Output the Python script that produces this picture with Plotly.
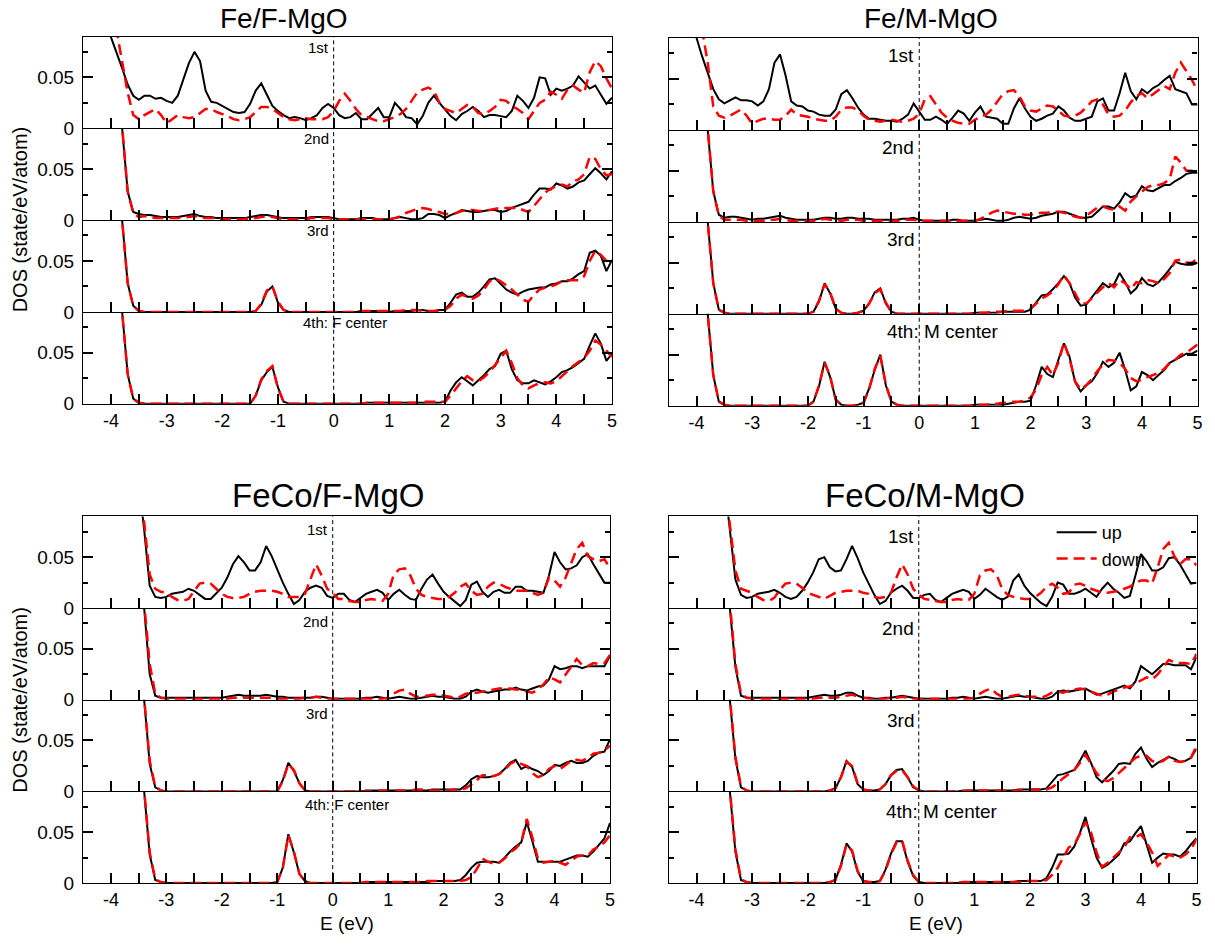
import plotly.graph_objects as go

W, H = 1215, 945

# ---------------- data ----------------
E = [-4.5, -4.4, -4.3, -4.2, -4.1, -4.0, -3.9, -3.8, -3.7, -3.6,
     -3.5, -3.4, -3.3, -3.2, -3.1, -3.0, -2.9, -2.8, -2.7, -2.6,
     -2.5, -2.4, -2.3, -2.2, -2.1, -2.0, -1.9, -1.8, -1.7, -1.6,
     -1.5, -1.4, -1.3, -1.2, -1.1, -1.0, -0.9, -0.8, -0.7, -0.6,
     -0.5, -0.4, -0.3, -0.2, -0.1, 0.0, 0.1, 0.2, 0.3, 0.4,
     0.5, 0.6, 0.7, 0.8, 0.9, 1.0, 1.1, 1.2, 1.3, 1.4,
     1.5, 1.6, 1.7, 1.8, 1.9, 2.0, 2.1, 2.2, 2.3, 2.4,
     2.5, 2.6, 2.7, 2.8, 2.9, 3.0, 3.1, 3.2, 3.3, 3.4,
     3.5, 3.6, 3.7, 3.8, 3.9, 4.0, 4.1, 4.2, 4.3, 4.4,
     4.5, 4.6, 4.7, 4.8, 4.9, 5.0]

# Fe/F-MgO
fe_f_1st_up = [0.165, 0.150, 0.135, 0.120, 0.105, 0.090, 0.074, 0.059, 0.043, 0.032,
               0.028, 0.032, 0.032, 0.029, 0.030, 0.027, 0.025, 0.032, 0.048, 0.064,
               0.075, 0.066, 0.037, 0.026, 0.025, 0.022, 0.019, 0.016, 0.015, 0.016,
               0.024, 0.037, 0.044, 0.033, 0.022, 0.017, 0.013, 0.010, 0.011, 0.010,
               0.008, 0.010, 0.013, 0.020, 0.024, 0.020, 0.013, 0.010, 0.011, 0.015,
               0.009, 0.009, 0.015, 0.020, 0.011, 0.011, 0.025, 0.019, 0.011, 0.010,
               0.004, 0.012, 0.025, 0.032, 0.025, 0.019, 0.012, 0.008, 0.014, 0.017,
               0.021, 0.017, 0.011, 0.013, 0.013, 0.012, 0.011, 0.017, 0.032, 0.027,
               0.020, 0.030, 0.050, 0.049, 0.033, 0.039, 0.037, 0.039, 0.042, 0.051,
               0.045, 0.039, 0.042, 0.033, 0.024, 0.030]
fe_f_1st_dn = [0.33, 0.29, 0.25, 0.21, 0.17, 0.125, 0.096, 0.065, 0.035, 0.013,
               0.009, 0.013, 0.016, 0.019, 0.013, 0.005, 0.009, 0.013, 0.011, 0.010,
               0.011, 0.015, 0.019, 0.019, 0.016, 0.014, 0.012, 0.009, 0.008, 0.009,
               0.011, 0.016, 0.021, 0.021, 0.019, 0.015, 0.011, 0.009, 0.008, 0.009,
               0.010, 0.009, 0.009, 0.009, 0.011, 0.017, 0.027, 0.034, 0.027, 0.019,
               0.013, 0.011, 0.009, 0.007, 0.007, 0.009, 0.011, 0.014, 0.019, 0.027,
               0.035, 0.038, 0.040, 0.037, 0.025, 0.019, 0.017, 0.015, 0.019, 0.023,
               0.021, 0.015, 0.014, 0.017, 0.021, 0.028, 0.027, 0.022, 0.019, 0.015,
               0.009, 0.017, 0.025, 0.028, 0.036, 0.033, 0.029, 0.038, 0.042, 0.038,
               0.035, 0.055, 0.066, 0.061, 0.049, 0.039]
fe_f_2nd_up = [0.40, 0.35, 0.30, 0.25, 0.20, 0.16, 0.125, 0.090, 0.028, 0.008,
               0.006, 0.005, 0.005, 0.004, 0.003, 0.003, 0.003, 0.003, 0.004, 0.005,
               0.006, 0.004, 0.003, 0.003, 0.002, 0.002, 0.002, 0.002, 0.002, 0.002,
               0.003, 0.004, 0.005, 0.005, 0.004, 0.003, 0.002, 0.002, 0.002, 0.002,
               0.002, 0.003, 0.003, 0.003, 0.003, 0.002, 0.001, 0.001, 0.001, 0.001,
               0.002, 0.002, 0.002, 0.001, 0.001, 0.001, 0.002, 0.003, 0.002, 0.001,
               0.001, 0.002, 0.006, 0.006, 0.005, 0.002, 0.005, 0.007, 0.010, 0.009,
               0.008, 0.008, 0.009, 0.010, 0.010, 0.008, 0.009, 0.012, 0.014, 0.016,
               0.018, 0.025, 0.031, 0.031, 0.030, 0.036, 0.034, 0.031, 0.033, 0.037,
               0.039, 0.045, 0.051, 0.046, 0.040, 0.048]
fe_f_2nd_dn = [0.40, 0.35, 0.30, 0.25, 0.20, 0.16, 0.125, 0.092, 0.028, 0.007,
               0.003, 0.004, 0.003, 0.002, 0.002, 0.002, 0.002, 0.002, 0.003, 0.003,
               0.004, 0.003, 0.002, 0.002, 0.002, 0.001, 0.001, 0.001, 0.001, 0.001,
               0.002, 0.002, 0.003, 0.004, 0.003, 0.002, 0.001, 0.001, 0.001, 0.001,
               0.001, 0.002, 0.002, 0.002, 0.002, 0.001, 0.001, 0.001, 0.001, 0.001,
               0.001, 0.001, 0.001, 0.001, 0.001, 0.001, 0.002, 0.004, 0.007, 0.009,
               0.011, 0.012, 0.011, 0.009, 0.008, 0.006, 0.006, 0.007, 0.009, 0.010,
               0.010, 0.009, 0.009, 0.010, 0.011, 0.012, 0.012, 0.012, 0.012, 0.010,
               0.008, 0.014, 0.020, 0.027, 0.031, 0.033, 0.035, 0.033, 0.038, 0.040,
               0.045, 0.062, 0.060, 0.050, 0.044, 0.045]
fe_f_3rd_up = [0.40, 0.35, 0.30, 0.25, 0.20, 0.16, 0.125, 0.090, 0.028, 0.006,
               0.001, 0, 0, 0, 0, 0, 0, 0, 0, 0,
               0, 0, 0, 0, 0, 0, 0, 0, 0, 0,
               0, 0.001, 0.007, 0.020, 0.025, 0.009, 0.002, 0, 0, 0,
               0, 0, 0, 0, 0, 0, 0, 0, 0, 0,
               0.001, 0.001, 0.001, 0.001, 0, 0, 0.001, 0.001, 0.001, 0.001,
               0.002, 0.002, 0.001, 0.001, 0.002, 0.002, 0.009, 0.017, 0.019, 0.015,
               0.015, 0.019, 0.025, 0.032, 0.033, 0.027, 0.022, 0.019, 0.017, 0.020,
               0.022, 0.023, 0.024, 0.024, 0.027, 0.028, 0.030, 0.030, 0.033, 0.037,
               0.040, 0.058, 0.060, 0.055, 0.040, 0.051]
fe_f_3rd_dn = [0.40, 0.35, 0.30, 0.25, 0.20, 0.16, 0.125, 0.090, 0.028, 0.006,
               0.001, 0, 0, 0, 0, 0, 0, 0, 0, 0,
               0, 0, 0, 0, 0, 0, 0, 0, 0, 0,
               0, 0.001, 0.008, 0.021, 0.025, 0.010, 0.002, 0, 0, 0,
               0, 0, 0, 0, 0, 0, 0, 0, 0, 0,
               0.001, 0.001, 0.001, 0.001, 0.001, 0.001, 0.001, 0.001, 0.002, 0.002,
               0.002, 0.001, 0.001, 0.001, 0.001, 0.002, 0.006, 0.013, 0.017, 0.015,
               0.013, 0.016, 0.022, 0.030, 0.033, 0.030, 0.026, 0.022, 0.017, 0.012,
               0.010, 0.017, 0.022, 0.024, 0.025, 0.027, 0.030, 0.031, 0.031, 0.031,
               0.035, 0.050, 0.060, 0.056, 0.050, 0.050]
fe_f_4th_up = [0.40, 0.35, 0.30, 0.25, 0.20, 0.16, 0.125, 0.090, 0.029, 0.005,
               0.001, 0, 0, 0, 0, 0, 0, 0, 0, 0,
               0, 0, 0, 0, 0, 0, 0, 0, 0, 0,
               0, 0.008, 0.023, 0.031, 0.036, 0.016, 0.002, 0, 0, 0,
               0, 0, 0, 0, 0, 0, 0, 0, 0, 0,
               0, 0.001, 0.001, 0.001, 0.001, 0.001, 0.001, 0.001, 0.001, 0.001,
               0.001, 0.001, 0.001, 0.001, 0.001, 0.002, 0.013, 0.021, 0.026, 0.022,
               0.018, 0.023, 0.028, 0.034, 0.037, 0.049, 0.052, 0.034, 0.023, 0.020,
               0.020, 0.023, 0.021, 0.019, 0.022, 0.026, 0.031, 0.033, 0.036, 0.040,
               0.044, 0.057, 0.069, 0.059, 0.042, 0.049]
fe_f_4th_dn = [0.40, 0.35, 0.30, 0.25, 0.20, 0.16, 0.125, 0.090, 0.029, 0.005,
               0.001, 0, 0, 0, 0, 0, 0, 0, 0, 0,
               0, 0, 0, 0, 0, 0, 0, 0, 0, 0,
               0, 0.008, 0.024, 0.032, 0.037, 0.015, 0.002, 0, 0, 0,
               0, 0, 0, 0, 0, 0, 0, 0, 0, 0,
               0, 0.001, 0.001, 0.001, 0.001, 0.001, 0.001, 0.001, 0.001, 0.001,
               0.001, 0.002, 0.002, 0.002, 0.002, 0.002, 0.008, 0.015, 0.022, 0.027,
               0.023, 0.022, 0.026, 0.031, 0.038, 0.046, 0.052, 0.040, 0.025, 0.018,
               0.015, 0.018, 0.020, 0.021, 0.020, 0.022, 0.027, 0.032, 0.037, 0.041,
               0.045, 0.052, 0.062, 0.058, 0.052, 0.046]

# Fe/M-MgO
fe_m_1st_up = [0.165, 0.150, 0.135, 0.120, 0.105, 0.090, 0.072, 0.056, 0.040, 0.030,
               0.026, 0.029, 0.032, 0.029, 0.029, 0.028, 0.024, 0.028, 0.040, 0.066,
               0.074, 0.053, 0.028, 0.024, 0.023, 0.019, 0.018, 0.015, 0.014, 0.014,
               0.020, 0.035, 0.039, 0.031, 0.022, 0.015, 0.011, 0.011, 0.010, 0.009,
               0.009, 0.008, 0.011, 0.015, 0.026, 0.018, 0.010, 0.010, 0.013, 0.010,
               0.006, 0.012, 0.019, 0.016, 0.009, 0.017, 0.023, 0.013, 0.012, 0.011,
               0.006, 0.006, 0.021, 0.031, 0.021, 0.013, 0.009, 0.011, 0.014, 0.016,
               0.023, 0.019, 0.012, 0.009, 0.009, 0.011, 0.013, 0.028, 0.031, 0.019,
               0.019, 0.036, 0.056, 0.038, 0.030, 0.040, 0.036, 0.041, 0.044, 0.049,
               0.053, 0.040, 0.038, 0.036, 0.025, 0.025]
fe_m_1st_dn = [0.33, 0.29, 0.25, 0.21, 0.17, 0.13, 0.098, 0.066, 0.023, 0.014,
               0.012, 0.014, 0.017, 0.020, 0.014, 0.006, 0.009, 0.011, 0.011, 0.010,
               0.010, 0.014, 0.020, 0.015, 0.014, 0.013, 0.011, 0.010, 0.009, 0.009,
               0.013, 0.020, 0.022, 0.022, 0.019, 0.014, 0.010, 0.009, 0.008, 0.009,
               0.010, 0.009, 0.008, 0.009, 0.011, 0.016, 0.030, 0.033, 0.025, 0.017,
               0.012, 0.009, 0.007, 0.006, 0.006, 0.010, 0.013, 0.015, 0.020, 0.028,
               0.035, 0.038, 0.039, 0.033, 0.023, 0.019, 0.018, 0.021, 0.024, 0.023,
               0.019, 0.014, 0.013, 0.014, 0.017, 0.022, 0.028, 0.030, 0.025, 0.015,
               0.013, 0.014, 0.019, 0.027, 0.033, 0.036, 0.031, 0.035, 0.039, 0.043,
               0.040, 0.056, 0.066, 0.057, 0.049, 0.038]
fe_m_2nd_up = [0.40, 0.35, 0.30, 0.25, 0.20, 0.16, 0.125, 0.090, 0.030, 0.007,
               0.004, 0.005, 0.005, 0.004, 0.003, 0.002, 0.003, 0.003, 0.004, 0.005,
               0.006, 0.004, 0.003, 0.002, 0.002, 0.002, 0.002, 0.003, 0.004, 0.004,
               0.003, 0.003, 0.004, 0.004, 0.003, 0.003, 0.003, 0.002, 0.002, 0.002,
               0.002, 0.002, 0.003, 0.003, 0.004, 0.002, 0.001, 0.001, 0.001, 0.001,
               0.001, 0.002, 0.002, 0.001, 0.001, 0.001, 0.002, 0.003, 0.002, 0.001,
               0.001, 0.002, 0.004, 0.005, 0.004, 0.003, 0.004, 0.006, 0.007, 0.008,
               0.010, 0.010, 0.008, 0.006, 0.004, 0.004, 0.005, 0.010, 0.015, 0.015,
               0.013, 0.019, 0.028, 0.024, 0.026, 0.035, 0.031, 0.030, 0.033, 0.036,
               0.036, 0.040, 0.043, 0.047, 0.048, 0.048]
fe_m_2nd_dn = [0.40, 0.35, 0.30, 0.25, 0.20, 0.16, 0.125, 0.092, 0.030, 0.006,
               0.002, 0.002, 0.002, 0.002, 0.001, 0.001, 0.001, 0.001, 0.002, 0.002,
               0.003, 0.002, 0.001, 0.001, 0.001, 0.001, 0.001, 0.002, 0.003, 0.002,
               0.002, 0.001, 0.002, 0.002, 0.002, 0.001, 0.001, 0.001, 0.001, 0.001,
               0.001, 0.001, 0.002, 0.002, 0.002, 0.001, 0.001, 0.001, 0.001, 0.001,
               0.001, 0.001, 0.001, 0.001, 0.001, 0.001, 0.003, 0.006, 0.009, 0.011,
               0.010, 0.009, 0.008, 0.008, 0.007, 0.007, 0.008, 0.009, 0.009, 0.010,
               0.010, 0.009, 0.007, 0.005, 0.004, 0.006, 0.010, 0.014, 0.015, 0.013,
               0.012, 0.015, 0.011, 0.020, 0.025, 0.030, 0.034, 0.036, 0.036, 0.038,
               0.042, 0.064, 0.058, 0.050, 0.050, 0.052]
fe_m_3rd_up = [0.40, 0.35, 0.30, 0.25, 0.20, 0.16, 0.125, 0.090, 0.030, 0.004,
               0.001, 0, 0, 0, 0, 0, 0, 0, 0, 0,
               0, 0, 0, 0, 0, 0, 0.002, 0.012, 0.030, 0.020,
               0.005, 0.001, 0, 0, 0.001, 0.003, 0.010, 0.021, 0.025, 0.010,
               0.002, 0, 0, 0, 0, 0, 0, 0, 0, 0,
               0, 0, 0, 0, 0, 0.001, 0.001, 0.001, 0.001, 0.001,
               0.002, 0.002, 0.002, 0.002, 0.002, 0.004, 0.011, 0.018, 0.019, 0.024,
               0.030, 0.037, 0.030, 0.016, 0.008, 0.009, 0.016, 0.023, 0.030, 0.026,
               0.029, 0.040, 0.031, 0.020, 0.025, 0.035, 0.029, 0.027, 0.031, 0.037,
               0.044, 0.051, 0.049, 0.048, 0.048, 0.050]
fe_m_3rd_dn = [0.40, 0.35, 0.30, 0.25, 0.20, 0.16, 0.125, 0.090, 0.030, 0.004,
               0.001, 0, 0, 0, 0, 0, 0, 0, 0, 0,
               0, 0, 0, 0, 0, 0, 0.002, 0.013, 0.029, 0.021,
               0.005, 0.001, 0, 0, 0.001, 0.003, 0.010, 0.020, 0.024, 0.011,
               0.002, 0, 0, 0, 0, 0, 0, 0, 0, 0,
               0, 0, 0, 0, 0, 0.001, 0.001, 0.001, 0.002, 0.002,
               0.002, 0.003, 0.003, 0.003, 0.003, 0.005, 0.010, 0.015, 0.018, 0.022,
               0.029, 0.038, 0.030, 0.020, 0.010, 0.010, 0.015, 0.021, 0.026, 0.030,
               0.026, 0.033, 0.030, 0.024, 0.031, 0.030, 0.033, 0.032, 0.030, 0.034,
               0.040, 0.052, 0.053, 0.050, 0.050, 0.054]
fe_m_4th_up = [0.40, 0.35, 0.30, 0.25, 0.20, 0.16, 0.125, 0.090, 0.030, 0.004,
               0.001, 0, 0, 0, 0, 0, 0, 0, 0, 0,
               0, 0, 0, 0, 0, 0, 0.004, 0.019, 0.043, 0.028,
               0.006, 0.001, 0, 0, 0.001, 0.003, 0.017, 0.035, 0.050, 0.020,
               0.004, 0.001, 0, 0, 0, 0, 0, 0, 0, 0,
               0, 0, 0, 0, 0, 0.001, 0.001, 0.001, 0.001, 0.001,
               0.001, 0.002, 0.003, 0.004, 0.004, 0.005, 0.020, 0.038, 0.031, 0.028,
               0.045, 0.061, 0.048, 0.023, 0.014, 0.020, 0.024, 0.032, 0.043, 0.038,
               0.042, 0.052, 0.035, 0.015, 0.019, 0.033, 0.030, 0.025, 0.030, 0.035,
               0.042, 0.045, 0.048, 0.051, 0.051, 0.054]
fe_m_4th_dn = [0.40, 0.35, 0.30, 0.25, 0.20, 0.16, 0.125, 0.090, 0.030, 0.004,
               0.001, 0, 0, 0, 0, 0, 0, 0, 0, 0,
               0, 0, 0, 0, 0, 0, 0.004, 0.020, 0.042, 0.029,
               0.006, 0.001, 0, 0, 0.001, 0.003, 0.016, 0.036, 0.049, 0.021,
               0.004, 0.001, 0, 0, 0, 0, 0, 0, 0, 0,
               0, 0, 0, 0, 0, 0.001, 0.001, 0.001, 0.002, 0.002,
               0.003, 0.003, 0.004, 0.004, 0.005, 0.008, 0.016, 0.030, 0.038, 0.030,
               0.042, 0.062, 0.046, 0.024, 0.016, 0.020, 0.026, 0.034, 0.040, 0.045,
               0.044, 0.042, 0.036, 0.027, 0.024, 0.025, 0.028, 0.030, 0.032, 0.036,
               0.042, 0.045, 0.050, 0.052, 0.056, 0.060]

# FeCo/F-MgO
feco_f_1st_up = [0.60, 0.55, 0.50, 0.45, 0.40, 0.35, 0.30, 0.25, 0.20, 0.16,
                 0.125, 0.077, 0.022, 0.011, 0.010, 0.011, 0.014, 0.015, 0.016, 0.019,
                 0.017, 0.013, 0.009, 0.009, 0.014, 0.020, 0.030, 0.043, 0.051, 0.045,
                 0.037, 0.037, 0.045, 0.061, 0.051, 0.037, 0.025, 0.014, 0.004, 0.008,
                 0.016, 0.020, 0.022, 0.020, 0.012, 0.010, 0.014, 0.014, 0.008, 0.006,
                 0.010, 0.014, 0.016, 0.018, 0.015, 0.008, 0.014, 0.018, 0.013, 0.009,
                 0.008, 0.019, 0.028, 0.033, 0.024, 0.016, 0.011, 0.006, 0.002, 0.008,
                 0.023, 0.026, 0.016, 0.011, 0.016, 0.018, 0.015, 0.015, 0.021, 0.021,
                 0.017, 0.017, 0.016, 0.015, 0.032, 0.055, 0.045, 0.038, 0.039, 0.042,
                 0.050, 0.053, 0.043, 0.034, 0.025, 0.025]
feco_f_1st_dn = [0.60, 0.55, 0.50, 0.45, 0.40, 0.35, 0.30, 0.25, 0.20, 0.16,
                 0.13, 0.084, 0.033, 0.019, 0.016, 0.015, 0.011, 0.008, 0.007, 0.009,
                 0.017, 0.024, 0.025, 0.024, 0.019, 0.014, 0.011, 0.010, 0.010, 0.011,
                 0.014, 0.016, 0.017, 0.017, 0.017, 0.016, 0.014, 0.011, 0.011, 0.011,
                 0.014, 0.028, 0.043, 0.032, 0.019, 0.015, 0.009, 0.009, 0.007, 0.006,
                 0.006, 0.008, 0.009, 0.008, 0.007, 0.014, 0.033, 0.038, 0.039, 0.032,
                 0.019, 0.013, 0.011, 0.010, 0.009, 0.009, 0.011, 0.015, 0.021, 0.024,
                 0.017, 0.013, 0.014, 0.021, 0.025, 0.024, 0.021, 0.019, 0.017, 0.017,
                 0.017, 0.015, 0.013, 0.015, 0.030, 0.027, 0.021, 0.030, 0.045, 0.058,
                 0.064, 0.051, 0.048, 0.046, 0.048, 0.039]
feco_f_2nd_up = [0.9, 0.8, 0.7, 0.6, 0.5, 0.42, 0.35, 0.28, 0.22, 0.17,
                 0.13, 0.090, 0.025, 0.004, 0.002, 0.002, 0.002, 0.002, 0.002, 0.002,
                 0.002, 0.002, 0.002, 0.002, 0.002, 0.002, 0.003, 0.004, 0.005, 0.004,
                 0.004, 0.004, 0.004, 0.005, 0.004, 0.003, 0.003, 0.002, 0.002, 0.002,
                 0.002, 0.002, 0.003, 0.003, 0.002, 0.001, 0.001, 0.001, 0.001, 0.001,
                 0.001, 0.002, 0.002, 0.003, 0.002, 0.001, 0.002, 0.003, 0.002, 0.001,
                 0.001, 0.002, 0.003, 0.004, 0.003, 0.003, 0.002, 0.001, 0.001, 0.003,
                 0.008, 0.010, 0.008, 0.007, 0.008, 0.009, 0.010, 0.010, 0.012, 0.010,
                 0.009, 0.011, 0.013, 0.014, 0.020, 0.033, 0.030, 0.031, 0.033, 0.033,
                 0.031, 0.033, 0.033, 0.033, 0.033, 0.043]
feco_f_2nd_dn = [0.9, 0.8, 0.7, 0.6, 0.5, 0.42, 0.35, 0.28, 0.22, 0.17,
                 0.13, 0.095, 0.035, 0.006, 0.002, 0.001, 0.001, 0.001, 0.001, 0.001,
                 0.001, 0.001, 0.001, 0.001, 0.001, 0.001, 0.001, 0.002, 0.002, 0.002,
                 0.002, 0.002, 0.002, 0.002, 0.002, 0.001, 0.001, 0.001, 0.001, 0.001,
                 0.002, 0.002, 0.003, 0.002, 0.001, 0.001, 0.001, 0.001, 0.001, 0.001,
                 0.001, 0.001, 0.001, 0.001, 0.001, 0.002, 0.006, 0.009, 0.010, 0.006,
                 0.003, 0.003, 0.004, 0.005, 0.005, 0.004, 0.003, 0.002, 0.003, 0.006,
                 0.007, 0.007, 0.008, 0.009, 0.010, 0.011, 0.011, 0.011, 0.010, 0.010,
                 0.008, 0.007, 0.010, 0.015, 0.022, 0.020, 0.017, 0.025, 0.033, 0.040,
                 0.034, 0.033, 0.036, 0.035, 0.036, 0.044]
feco_f_3rd_up = [0.9, 0.8, 0.7, 0.6, 0.5, 0.42, 0.35, 0.28, 0.22, 0.17,
                 0.13, 0.090, 0.027, 0.004, 0.001, 0, 0, 0, 0, 0,
                 0, 0, 0, 0, 0, 0, 0, 0, 0, 0,
                 0, 0, 0, 0, 0, 0, 0.011, 0.028, 0.020, 0.008,
                 0.001, 0, 0, 0, 0, 0, 0, 0, 0, 0,
                 0, 0.001, 0.001, 0.001, 0.001, 0.001, 0.001, 0.001, 0.001, 0.001,
                 0.001, 0.001, 0.001, 0.002, 0.002, 0.002, 0.002, 0.002, 0.002, 0.006,
                 0.012, 0.015, 0.014, 0.014, 0.015, 0.017, 0.022, 0.028, 0.031, 0.022,
                 0.025, 0.022, 0.020, 0.016, 0.020, 0.026, 0.025, 0.028, 0.030, 0.028,
                 0.028, 0.030, 0.035, 0.038, 0.039, 0.051]
feco_f_3rd_dn = [0.9, 0.8, 0.7, 0.6, 0.5, 0.42, 0.35, 0.28, 0.22, 0.17,
                 0.13, 0.092, 0.030, 0.005, 0.001, 0, 0, 0, 0, 0,
                 0, 0, 0, 0, 0, 0, 0, 0, 0, 0,
                 0, 0, 0, 0, 0, 0, 0.010, 0.027, 0.021, 0.008,
                 0.001, 0, 0, 0, 0, 0, 0, 0, 0, 0,
                 0, 0, 0, 0.001, 0.001, 0.001, 0.001, 0.001, 0.001, 0.001,
                 0.002, 0.002, 0.001, 0.001, 0.001, 0.001, 0.001, 0.002, 0.002, 0.003,
                 0.007, 0.011, 0.016, 0.016, 0.015, 0.017, 0.021, 0.027, 0.030, 0.027,
                 0.025, 0.018, 0.014, 0.016, 0.022, 0.025, 0.022, 0.026, 0.030, 0.031,
                 0.030, 0.033, 0.037, 0.038, 0.040, 0.045]
feco_f_4th_up = [0.9, 0.8, 0.7, 0.6, 0.5, 0.42, 0.35, 0.28, 0.22, 0.17,
                 0.13, 0.090, 0.028, 0.003, 0.001, 0, 0, 0, 0, 0,
                 0, 0, 0, 0, 0, 0, 0, 0, 0, 0,
                 0, 0, 0, 0, 0, 0.001, 0.015, 0.048, 0.030, 0.009,
                 0.002, 0, 0, 0, 0, 0, 0, 0, 0, 0,
                 0, 0.001, 0.001, 0.001, 0.001, 0.001, 0.001, 0.001, 0.001, 0.001,
                 0.001, 0.001, 0.001, 0.002, 0.002, 0.002, 0.002, 0.002, 0.003, 0.008,
                 0.015, 0.020, 0.021, 0.021, 0.021, 0.020, 0.025, 0.031, 0.036, 0.040,
                 0.060, 0.041, 0.021, 0.021, 0.021, 0.021, 0.021, 0.023, 0.025, 0.027,
                 0.027, 0.026, 0.031, 0.038, 0.044, 0.059]
feco_f_4th_dn = [0.9, 0.8, 0.7, 0.6, 0.5, 0.42, 0.35, 0.28, 0.22, 0.17,
                 0.13, 0.092, 0.030, 0.004, 0.001, 0, 0, 0, 0, 0,
                 0, 0, 0, 0, 0, 0, 0, 0, 0, 0,
                 0, 0, 0, 0, 0, 0.001, 0.015, 0.047, 0.031, 0.009,
                 0.002, 0, 0, 0, 0, 0, 0, 0, 0, 0,
                 0, 0.001, 0.001, 0.001, 0.001, 0.001, 0.001, 0.001, 0.001, 0.001,
                 0.001, 0.001, 0.002, 0.002, 0.002, 0.002, 0.002, 0.002, 0.002, 0.003,
                 0.006, 0.014, 0.024, 0.021, 0.019, 0.020, 0.024, 0.030, 0.034, 0.040,
                 0.063, 0.045, 0.024, 0.020, 0.021, 0.022, 0.020, 0.018, 0.022, 0.026,
                 0.027, 0.027, 0.033, 0.036, 0.040, 0.047]

# FeCo/M-MgO
feco_m_1st_up = [0.60, 0.55, 0.50, 0.45, 0.40, 0.35, 0.30, 0.25, 0.20, 0.16,
                 0.125, 0.077, 0.028, 0.013, 0.010, 0.011, 0.014, 0.015, 0.016, 0.018,
                 0.015, 0.011, 0.009, 0.011, 0.017, 0.025, 0.035, 0.048, 0.050, 0.040,
                 0.036, 0.037, 0.048, 0.061, 0.049, 0.035, 0.024, 0.013, 0.004, 0.007,
                 0.015, 0.019, 0.022, 0.017, 0.010, 0.010, 0.013, 0.014, 0.008, 0.006,
                 0.010, 0.014, 0.016, 0.018, 0.016, 0.009, 0.013, 0.019, 0.015, 0.011,
                 0.008, 0.011, 0.027, 0.033, 0.022, 0.015, 0.010, 0.005, 0.002, 0.011,
                 0.025, 0.023, 0.014, 0.014, 0.016, 0.019, 0.015, 0.011, 0.019, 0.025,
                 0.019, 0.015, 0.010, 0.012, 0.032, 0.053, 0.046, 0.037, 0.037, 0.040,
                 0.049, 0.050, 0.043, 0.033, 0.024, 0.025]
feco_m_1st_dn = [0.60, 0.55, 0.50, 0.45, 0.40, 0.35, 0.30, 0.25, 0.20, 0.16,
                 0.13, 0.082, 0.037, 0.019, 0.017, 0.015, 0.011, 0.008, 0.007, 0.010,
                 0.018, 0.024, 0.025, 0.024, 0.020, 0.015, 0.013, 0.011, 0.009, 0.012,
                 0.015, 0.016, 0.017, 0.017, 0.017, 0.015, 0.014, 0.011, 0.010, 0.011,
                 0.015, 0.030, 0.043, 0.033, 0.019, 0.013, 0.009, 0.008, 0.007, 0.006,
                 0.006, 0.008, 0.009, 0.008, 0.008, 0.014, 0.032, 0.037, 0.038, 0.033,
                 0.019, 0.013, 0.011, 0.010, 0.009, 0.009, 0.011, 0.015, 0.021, 0.024,
                 0.020, 0.014, 0.015, 0.023, 0.024, 0.022, 0.019, 0.017, 0.015, 0.015,
                 0.016, 0.017, 0.019, 0.021, 0.025, 0.027, 0.027, 0.024, 0.040, 0.058,
                 0.064, 0.051, 0.043, 0.048, 0.048, 0.042]
feco_m_2nd_up = [0.9, 0.8, 0.7, 0.6, 0.5, 0.42, 0.35, 0.28, 0.22, 0.17,
                 0.13, 0.090, 0.032, 0.004, 0.002, 0.002, 0.002, 0.002, 0.002, 0.002,
                 0.002, 0.002, 0.002, 0.002, 0.002, 0.002, 0.003, 0.004, 0.005, 0.004,
                 0.004, 0.005, 0.007, 0.007, 0.004, 0.002, 0.002, 0.001, 0.001, 0.002,
                 0.002, 0.003, 0.004, 0.003, 0.002, 0.001, 0.001, 0.001, 0.001, 0.001,
                 0.001, 0.002, 0.002, 0.003, 0.002, 0.001, 0.002, 0.003, 0.002, 0.001,
                 0.001, 0.002, 0.003, 0.004, 0.003, 0.003, 0.002, 0.001, 0.001, 0.003,
                 0.008, 0.009, 0.008, 0.009, 0.010, 0.011, 0.008, 0.005, 0.006, 0.008,
                 0.010, 0.012, 0.014, 0.011, 0.018, 0.033, 0.029, 0.025, 0.030, 0.035,
                 0.035, 0.034, 0.034, 0.034, 0.030, 0.042]
feco_m_2nd_dn = [0.9, 0.8, 0.7, 0.6, 0.5, 0.42, 0.35, 0.28, 0.22, 0.17,
                 0.13, 0.095, 0.035, 0.006, 0.002, 0.001, 0.001, 0.001, 0.001, 0.001,
                 0.001, 0.001, 0.001, 0.001, 0.001, 0.001, 0.001, 0.002, 0.002, 0.002,
                 0.002, 0.003, 0.004, 0.005, 0.003, 0.002, 0.001, 0.001, 0.001, 0.001,
                 0.002, 0.002, 0.003, 0.002, 0.001, 0.001, 0.001, 0.001, 0.001, 0.001,
                 0.001, 0.001, 0.001, 0.001, 0.001, 0.002, 0.006, 0.009, 0.011, 0.006,
                 0.003, 0.003, 0.004, 0.005, 0.004, 0.003, 0.003, 0.002, 0.004, 0.007,
                 0.008, 0.007, 0.009, 0.010, 0.011, 0.010, 0.008, 0.006, 0.004, 0.005,
                 0.008, 0.010, 0.012, 0.013, 0.016, 0.019, 0.022, 0.020, 0.025, 0.032,
                 0.039, 0.037, 0.036, 0.036, 0.035, 0.045]
feco_m_3rd_up = [0.9, 0.8, 0.7, 0.6, 0.5, 0.42, 0.35, 0.28, 0.22, 0.17,
                 0.13, 0.090, 0.032, 0.004, 0.001, 0, 0, 0, 0, 0,
                 0, 0, 0, 0, 0, 0, 0, 0, 0, 0.001,
                 0.003, 0.014, 0.030, 0.024, 0.007, 0.002, 0.001, 0.001, 0.002, 0.007,
                 0.016, 0.021, 0.022, 0.014, 0.004, 0.001, 0, 0, 0, 0,
                 0, 0, 0, 0.001, 0.001, 0.001, 0.001, 0.001, 0.001, 0.001,
                 0.001, 0.001, 0.001, 0.002, 0.002, 0.002, 0.002, 0.002, 0.003, 0.009,
                 0.016, 0.017, 0.019, 0.021, 0.030, 0.040, 0.028, 0.014, 0.009, 0.014,
                 0.020, 0.027, 0.028, 0.027, 0.037, 0.043, 0.032, 0.024, 0.028, 0.031,
                 0.034, 0.032, 0.029, 0.030, 0.033, 0.042]
feco_m_3rd_dn = [0.9, 0.8, 0.7, 0.6, 0.5, 0.42, 0.35, 0.28, 0.22, 0.17,
                 0.13, 0.092, 0.034, 0.005, 0.001, 0, 0, 0, 0, 0,
                 0, 0, 0, 0, 0, 0, 0, 0, 0, 0.001,
                 0.003, 0.014, 0.029, 0.025, 0.008, 0.002, 0.001, 0.001, 0.002, 0.007,
                 0.016, 0.020, 0.021, 0.014, 0.005, 0.001, 0, 0, 0, 0,
                 0, 0, 0, 0, 0.001, 0.001, 0.001, 0.001, 0.001, 0.001,
                 0.001, 0.001, 0.001, 0.001, 0.002, 0.002, 0.002, 0.002, 0.002, 0.004,
                 0.008, 0.013, 0.017, 0.021, 0.028, 0.036, 0.027, 0.018, 0.012, 0.010,
                 0.013, 0.018, 0.023, 0.028, 0.033, 0.035, 0.035, 0.030, 0.028, 0.030,
                 0.034, 0.030, 0.029, 0.030, 0.033, 0.045]
feco_m_4th_up = [0.9, 0.8, 0.7, 0.6, 0.5, 0.42, 0.35, 0.28, 0.22, 0.17,
                 0.13, 0.090, 0.031, 0.003, 0.001, 0, 0, 0, 0, 0,
                 0, 0, 0, 0, 0, 0, 0, 0, 0, 0.001,
                 0.003, 0.018, 0.039, 0.031, 0.011, 0.002, 0.001, 0.001, 0.002, 0.013,
                 0.029, 0.041, 0.041, 0.021, 0.007, 0.001, 0, 0, 0, 0,
                 0, 0, 0, 0.001, 0.001, 0.001, 0.001, 0.001, 0.001, 0.001,
                 0.001, 0.001, 0.001, 0.002, 0.002, 0.002, 0.002, 0.002, 0.005, 0.015,
                 0.028, 0.028, 0.029, 0.036, 0.049, 0.065, 0.044, 0.025, 0.015, 0.018,
                 0.023, 0.028, 0.039, 0.041, 0.049, 0.056, 0.038, 0.020, 0.025, 0.029,
                 0.028, 0.028, 0.026, 0.031, 0.038, 0.044]
feco_m_4th_dn = [0.9, 0.8, 0.7, 0.6, 0.5, 0.42, 0.35, 0.28, 0.22, 0.17,
                 0.13, 0.092, 0.033, 0.004, 0.001, 0, 0, 0, 0, 0,
                 0, 0, 0, 0, 0, 0, 0, 0, 0, 0.001,
                 0.003, 0.017, 0.038, 0.032, 0.012, 0.002, 0.001, 0.001, 0.002, 0.012,
                 0.028, 0.040, 0.042, 0.022, 0.008, 0.001, 0, 0, 0, 0,
                 0, 0, 0, 0.001, 0.001, 0.001, 0.001, 0.001, 0.001, 0.001,
                 0.001, 0.001, 0.001, 0.001, 0.002, 0.002, 0.002, 0.002, 0.003, 0.008,
                 0.015, 0.025, 0.035, 0.038, 0.048, 0.060, 0.050, 0.030, 0.016, 0.020,
                 0.025, 0.030, 0.035, 0.045, 0.045, 0.048, 0.040, 0.030, 0.017, 0.022,
                 0.028, 0.026, 0.025, 0.028, 0.033, 0.043]

titles = ["Fe/F-MgO", "Fe/M-MgO", "FeCo/F-MgO", "FeCo/M-MgO"]
layer_labels_F = ["1st", "2nd", "3rd", "4th: F center"]
layer_labels_M = ["1st", "2nd", "3rd", "4th: M center"]
x_tick_vals = [-4, -3, -2, -1, 0, 1, 2, 3, 4, 5]
x_tick_text = ["-4", "-3", "-2", "-1", "0", "1", "2", "3", "4", "5"]
x_minor_vals = [-4.5, -3.5, -2.5, -1.5, -0.5, 0.5, 1.5, 2.5, 3.5, 4.5]
y_tick_vals = [0, 0.05]
y_tick_text = ["0", "0.05"]
y_minor_vals = [0.025, 0.075]
y_title = "DOS (state/eV/atom)"
x_title = "E (eV)"
series_names = ["up", "down"]

all_series = {
    "fe_f_1st_up": fe_f_1st_up, "fe_f_1st_dn": fe_f_1st_dn, "fe_f_2nd_up": fe_f_2nd_up, "fe_f_2nd_dn": fe_f_2nd_dn,
    "fe_f_3rd_up": fe_f_3rd_up, "fe_f_3rd_dn": fe_f_3rd_dn, "fe_f_4th_up": fe_f_4th_up, "fe_f_4th_dn": fe_f_4th_dn,
    "fe_m_1st_up": fe_m_1st_up, "fe_m_1st_dn": fe_m_1st_dn, "fe_m_2nd_up": fe_m_2nd_up, "fe_m_2nd_dn": fe_m_2nd_dn,
    "fe_m_3rd_up": fe_m_3rd_up, "fe_m_3rd_dn": fe_m_3rd_dn, "fe_m_4th_up": fe_m_4th_up, "fe_m_4th_dn": fe_m_4th_dn,
    "feco_f_1st_up": feco_f_1st_up, "feco_f_1st_dn": feco_f_1st_dn, "feco_f_2nd_up": feco_f_2nd_up, "feco_f_2nd_dn": feco_f_2nd_dn,
    "feco_f_3rd_up": feco_f_3rd_up, "feco_f_3rd_dn": feco_f_3rd_dn, "feco_f_4th_up": feco_f_4th_up, "feco_f_4th_dn": feco_f_4th_dn,
    "feco_m_1st_up": feco_m_1st_up, "feco_m_1st_dn": feco_m_1st_dn, "feco_m_2nd_up": feco_m_2nd_up, "feco_m_2nd_dn": feco_m_2nd_dn,
    "feco_m_3rd_up": feco_m_3rd_up, "feco_m_3rd_dn": feco_m_3rd_dn, "feco_m_4th_up": feco_m_4th_up, "feco_m_4th_dn": feco_m_4th_dn,
}
bad = [f"{k}:{len(v)}" for k, v in all_series.items() if len(v) != len(E)]
if bad:
    raise ValueError("length mismatch: " + ", ".join(bad))

panel_data = [
    [(fe_f_1st_up, fe_f_1st_dn), (fe_f_2nd_up, fe_f_2nd_dn), (fe_f_3rd_up, fe_f_3rd_dn), (fe_f_4th_up, fe_f_4th_dn)],
    [(fe_m_1st_up, fe_m_1st_dn), (fe_m_2nd_up, fe_m_2nd_dn), (fe_m_3rd_up, fe_m_3rd_dn), (fe_m_4th_up, fe_m_4th_dn)],
    [(feco_f_1st_up, feco_f_1st_dn), (feco_f_2nd_up, feco_f_2nd_dn), (feco_f_3rd_up, feco_f_3rd_dn), (feco_f_4th_up, feco_f_4th_dn)],
    [(feco_m_1st_up, feco_m_1st_dn), (feco_m_2nd_up, feco_m_2nd_dn), (feco_m_3rd_up, feco_m_3rd_dn), (feco_m_4th_up, feco_m_4th_dn)],
]
panel_labels = [layer_labels_F, layer_labels_M, layer_labels_F, layer_labels_M]

# ---------------- geometry / style ----------------
FONT = "Liberation Sans, Arial, Helvetica, sans-serif"
# (x_left, x_right, y_top, y_bottom) in pixels
boxes = [(83.5, 614.5, 37.0, 408.5),
         (671.5, 1202.5, 38.5, 410.5),
         (83.5, 612.5, 522.5, 893.5),
         (671.5, 1201.5, 522.5, 893.5)]
title_pos = [(285, 19, 28), (935, 19, 28), (330, 501, 33), (929, 501, 33)]
label_size = [15, 19, 15, 19]
label_drop = [1, 6, 4, 9]             # px below subpanel top
label_start4 = [-0.56, -0.60, -0.52, -0.60]

fig = go.Figure()
layout_axes = {}
annotations = []
shapes = []
AX = 1.4

for p in range(4):
    xl, xr, yt, yb = boxes[p]
    sub_h = (yb - yt) / 4.0
    for s in range(4):
        n = p * 4 + s + 1
        sfx = "" if n == 1 else str(n)
        top = yt + s * sub_h
        bot = top + sub_h
        up, dn = panel_data[p][s]
        show_leg = (p == 3 and s == 0)
        fig.add_trace(go.Scatter(x=E, y=up, mode="lines", name=series_names[0],
                                 line=dict(color="black", width=2),
                                 xaxis="x" + sfx, yaxis="y" + sfx,
                                 showlegend=show_leg, legendrank=1))
        fig.add_trace(go.Scatter(x=E, y=dn, mode="lines", name=series_names[1],
                                 line=dict(color="#ff0000", width=2.5, dash="11px,6px"),
                                 xaxis="x" + sfx, yaxis="y" + sfx,
                                 showlegend=show_leg, legendrank=2))
        bottom_row = (s == 3)
        layout_axes["xaxis" + sfx] = dict(
            domain=[xl / W, xr / W], range=[-4.5, 5], anchor="y" + sfx,
            tickmode="array", tickvals=x_tick_vals, ticktext=x_tick_text,
            showticklabels=bottom_row, ticks="inside", ticklen=10, tickwidth=1.5,
            tickcolor="black",
            minor=dict(tickmode="array", tickvals=x_minor_vals, ticks="inside",
                       ticklen=10, tickwidth=1.5, tickcolor="black", showgrid=False),
            showline=True, linecolor="black", linewidth=AX, mirror=(s == 0),
            showgrid=False, zeroline=False, layer="above traces",
            tickfont=dict(family=FONT, size=18, color="black"))
        layout_axes["yaxis" + sfx] = dict(
            domain=[1 - bot / H, 1 - top / H], range=[0, 0.09], anchor="x" + sfx,
            tickmode="array", tickvals=y_tick_vals, ticktext=y_tick_text,
            showticklabels=(p in (0, 2)), ticks="inside", ticklen=10, tickwidth=1.5,
            tickcolor="black", ticklabelstandoff=4,
            minor=dict(tickmode="array", tickvals=y_minor_vals, ticks="inside",
                       ticklen=5, tickwidth=1.5, tickcolor="black", showgrid=False),
            showline=True, linecolor="black", linewidth=AX, mirror="ticks",
            showgrid=False, zeroline=False, layer="above traces",
            tickfont=dict(family=FONT, size=19, color="black"))
        # dashed Fermi-level line
        shapes.append(dict(type="line", xref="x" + sfx, yref="y" + sfx + " domain",
                           x0=0, x1=0, y0=0, y1=1, layer="above",
                           line=dict(color="black", width=1, dash="4px,3px")))
        # layer label
        ypos = 1 - label_drop[p] / sub_h
        txt = panel_labels[p][s]
        if s < 3:
            annotations.append(dict(text=txt, xref="x" + sfx, yref="y" + sfx + " domain",
                                    x=-0.07, y=ypos, xanchor="right", yanchor="top",
                                    showarrow=False, borderpad=0,
                                    font=dict(family=FONT, size=label_size[p], color="black")))
        else:
            annotations.append(dict(text=txt, xref="x" + sfx, yref="y" + sfx + " domain",
                                    x=label_start4[p], y=ypos, xanchor="left", yanchor="top",
                                    showarrow=False, borderpad=0,
                                    font=dict(family=FONT, size=label_size[p], color="black")))
    # title
    tx, ty, ts = title_pos[p]
    annotations.append(dict(text=titles[p], xref="paper", yref="paper",
                            x=tx / W, y=1 - ty / H, xanchor="center", yanchor="middle",
                            showarrow=False, font=dict(family=FONT, size=ts, color="black")))

# axis titles
for yc in (222, 708):
    annotations.append(dict(text=y_title, xref="paper", yref="paper", x=20 / W, y=1 - yc / H,
                            xanchor="center", yanchor="middle", textangle=-90, showarrow=False,
                            font=dict(family=FONT, size=20, color="black")))
for xc in (348, 940):
    annotations.append(dict(text=x_title, xref="paper", yref="paper", x=xc / W, y=1 - 934 / H,
                            xanchor="center", yanchor="middle", showarrow=False, borderpad=0,
                            font=dict(family=FONT, size=19, color="black")))

fig.update_layout(
    width=W, height=H, autosize=False,
    margin=dict(l=0, r=0, t=0, b=0),
    paper_bgcolor="white", plot_bgcolor="white",
    font=dict(family=FONT, color="black"),
    showlegend=True,
    legend=dict(x=1056 / W, y=1 - 520 / H, xanchor="left", yanchor="top",
                bgcolor="rgba(0,0,0,0)", borderwidth=0,
                font=dict(family=FONT, size=18, color="black"),
                itemwidth=40, tracegroupgap=0),
    annotations=annotations, shapes=shapes,
    **layout_axes)

# remove the browser's default 8px page margin so the figure fills the window exactly
fig.write_html("out.html",
               config={"displayModeBar": False},
               post_script="document.body.style.margin='0';document.body.style.overflow='hidden';")
